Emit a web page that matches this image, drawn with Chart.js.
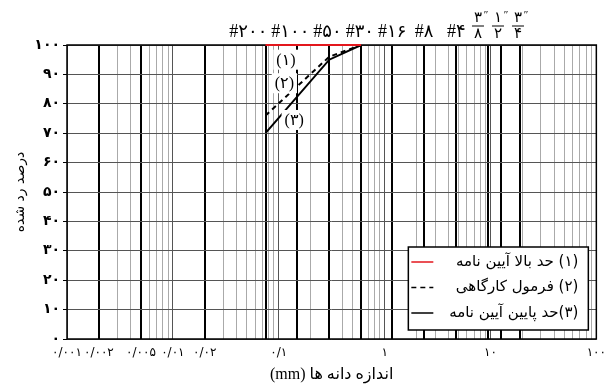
<!DOCTYPE html>
<html>
<head>
<meta charset="utf-8">
<script src="https://cdn.jsdelivr.net/npm/chart.js@4.4.0/dist/chart.umd.min.js"></script>
<style>
    html, body { margin: 0; padding: 0; background: #fff; }
    #contenedor { width: 613px; height: 385px; }
</style>
</head>
<body>
<div id="contenedor"><canvas id="grafica"></canvas></div>
<script>
// tamaños de tamiz (mm) donde se leen las curvas
const tamanos = [0.075, 0.3, 0.6];
const limiteSuperior = [100, 100, 100];
const formulaObra = [76, 96, 100];
const limiteInferior = [70, 95, 100];

const nombresSeries = ['(۱) حد بالا آیین نامه', '(۲) فرمول کارگاهی', '(۳)حد پایین آیین نامه'];
const numerosSeries = ['(۱)', '(۲)', '(۳)'];

// tamices marcados arriba del grafico
const tamicesAbertura = [0.075, 0.15, 0.3, 0.6, 1.18, 2.36, 4.75, 9.5, 12.5, 19];
const tamicesNombre = ['#۲۰۰', '#۱۰۰', '#۵۰', '#۳۰', '#۱۶', '#۸', '#۴', '۳/۸', '۱/۲', '۳/۴'];
const lineasHidrometro = [0.002, 0.005, 0.02];

const etiquetasX = [0.001, 0.002, 0.005, 0.01, 0.02, 0.1, 1, 10, 100];
const etiquetasY = [0, 10, 20, 30, 40, 50, 60, 70, 80, 90, 100];

const fuente = "'Liberation Serif', 'DejaVu Sans', serif";
const fuenteFa = "'DejaVu Sans', 'Liberation Serif', sans-serif";

function aPersa(valor) {
    return String(valor).replace('.', '/').replace(/\d/g, d => '۰۱۲۳۴۵۶۷۸۹'[d]);
}

function estaEn(lista, v) {
    return lista.some(x => Math.abs(x - v) / x < 0.001);
}

function puntos(valores) {
    return tamanos.map((t, i) => ({x: t, y: valores[i]}));
}

function lineasGrillaX() {
    let ticks = [];
    for (let k = -3; k <= 1; k++) {
        for (let n = 1; n <= 9; n++) {
            ticks.push(parseFloat((n * Math.pow(10, k)).toPrecision(3)));
        }
    }
    ticks.push(100);
    tamicesAbertura.forEach(t => { if (!estaEn(ticks, t)) ticks.push(t); });
    return ticks.sort((a, b) => a - b).map(v => ({value: v}));
}

function esGruesa(v) {
    return estaEn(tamicesAbertura, v) || estaEn(lineasHidrometro, v);
}

function esDecada(v) {
    return Math.abs(Math.log10(v) - Math.round(Math.log10(v))) < 1e-6;
}

// posicion (en unidades de datos) de los numeros (۱) (۲) (۳)
const posicionNumeros = [[0.117, 95], [0.113, 87], [0.14, 74.5]];

const complementos = {
    id: 'complementos',
    beforeDatasetsDraw(chart) {
        const ctx = chart.ctx;
        const a = chart.chartArea;
        ctx.save();
        ctx.strokeStyle = '#000';
        ctx.lineWidth = 1.5;
        ctx.strokeRect(a.left, a.top, a.right - a.left, a.bottom - a.top);
        ctx.restore();
    },
    afterDatasetsDraw(chart) {
        const ctx = chart.ctx;
        const sx = chart.scales.x;
        const sy = chart.scales.y;
        ctx.save();
        ctx.font = '16px ' + fuente;
        ctx.textAlign = 'center';
        ctx.textBaseline = 'middle';
        numerosSeries.forEach((txt, i) => {
            const px = sx.getPixelForValue(posicionNumeros[i][0]);
            const py = sy.getPixelForValue(posicionNumeros[i][1]);
            const w = ctx.measureText(txt).width + 6;
            ctx.fillStyle = '#fff';
            ctx.fillRect(px - w / 2, py - 10, w, 20);
            ctx.fillStyle = '#000';
            ctx.fillText(txt, px, py + 1);
        });
        ctx.restore();
    },
    afterDraw(chart) {
        const ctx = chart.ctx;
        const a = chart.chartArea;
        const sx = chart.scales.x;

        // leyenda
        const caja = {left: a.right - 188, top: a.bottom - 92, width: 180, height: 83};
        ctx.save();
        ctx.fillStyle = '#fff';
        ctx.fillRect(caja.left, caja.top, caja.width, caja.height);
        ctx.strokeStyle = '#000';
        ctx.lineWidth = 1.5;
        ctx.strokeRect(caja.left, caja.top, caja.width, caja.height);
        chart.data.datasets.forEach((ds, i) => {
            const y = caja.top + 15 + i * 25.5;
            ctx.strokeStyle = ds.borderColor;
            ctx.lineWidth = 1.5;
            ctx.setLineDash(ds.borderDash || []);
            ctx.beginPath();
            ctx.moveTo(caja.left + 3, y);
            ctx.lineTo(caja.left + 25, y);
            ctx.stroke();
            ctx.setLineDash([]);
            ctx.fillStyle = '#000';
            ctx.font = '15px ' + fuenteFa;
            ctx.direction = 'rtl';
            ctx.textAlign = 'right';
            ctx.textBaseline = 'middle';
            ctx.fillText(ds.label, caja.left + caja.width - 10, y);
        });
        ctx.restore();

        // nombres de tamices arriba
        ctx.save();
        ctx.direction = 'ltr';
        ctx.font = '18px ' + fuente;
        const items = tamicesAbertura.map((v, i) => {
            const nombre = tamicesNombre[i];
            const fraccion = nombre.includes('/');
            return {
                centro: sx.getPixelForValue(v),
                nombre: nombre,
                fraccion: fraccion,
                ancho: fraccion ? 16 : ctx.measureText(nombre).width
            };
        });
        let limite = Infinity;
        for (let i = items.length - 1; i >= 0; i--) {
            const it = items[i];
            let der = it.centro + it.ancho / 2;
            if (der > limite - 4) der = limite - 4;
            it.izq = der - it.ancho;
            limite = it.izq;
        }
        ctx.fillStyle = '#000';
        ctx.strokeStyle = '#000';
        items.forEach(it => {
            if (it.fraccion) {
                const [num, den] = it.nombre.split('/');
                const cx = it.izq + it.ancho / 2 - 2;
                ctx.font = '15px ' + fuente;
                ctx.textAlign = 'center';
                ctx.textBaseline = 'middle';
                ctx.fillText(num, cx, a.top - 27);
                ctx.fillText(den, cx, a.top - 11);
                ctx.font = '11px ' + fuente;
                ctx.fillText('″', cx + 8, a.top - 30);
                ctx.lineWidth = 1;
                ctx.beginPath();
                ctx.moveTo(cx - 6, a.top - 19);
                ctx.lineTo(cx + 6, a.top - 19);
                ctx.stroke();
            } else {
                ctx.font = '18px ' + fuente;
                ctx.textAlign = 'left';
                ctx.textBaseline = 'alphabetic';
                ctx.fillText(it.nombre, it.izq, a.top - 8);
            }
        });
        ctx.restore();
    }
};

const ctx = document.getElementById('grafica').getContext('2d');
new Chart(ctx, {
    type: 'line',
    data: {
        datasets: [{
                label: nombresSeries[0],
                data: puntos(limiteSuperior),
                borderColor: '#e3161c',
                borderWidth: 2,
                pointRadius: 0,
                clip: false
            }, {
                label: nombresSeries[1],
                data: puntos(formulaObra),
                borderColor: '#000',
                borderDash: [5, 4],
                borderWidth: 2,
                pointRadius: 0,
                clip: false
            }, {
                label: nombresSeries[2],
                data: puntos(limiteInferior),
                borderColor: '#000',
                borderWidth: 2,
                pointRadius: 0,
                clip: false
            }]
    },
    options: {
        responsive: true,
        maintainAspectRatio: false,
        animation: false,
        devicePixelRatio: 1,
        layout: {padding: {top: 45, right: 15, left: 0, bottom: 0}},
        plugins: {
            legend: {display: false},
            tooltip: {enabled: false}
        },
        scales: {
            x: {
                type: 'logarithmic',
                min: 0.001,
                max: 100,
                afterBuildTicks: function (scale) {
                    scale.ticks = lineasGrillaX();
                },
                afterFit: function (scale) {
                    scale.height = 46;
                },
                border: {display: false},
                grid: {
                    drawTicks: false,
                    color: c => esGruesa(c.tick.value) ? '#000' : (esDecada(c.tick.value) ? '#555' : '#aaa'),
                    lineWidth: c => esGruesa(c.tick.value) ? 2 : 1
                },
                ticks: {
                    autoSkip: false,
                    maxRotation: 0,
                    minRotation: 0,
                    padding: 7,
                    color: '#000',
                    font: {family: fuenteFa, size: 12},
                    callback: function (valor) {
                        return estaEn(etiquetasX, valor) ? aPersa(valor) : '';
                    }
                },
                title: {
                    display: true,
                    text: '\u202Bاندازه دانه ها (mm)\u202C',
                    color: '#000',
                    padding: {top: 2, bottom: 1},
                    font: {family: fuente, size: 16}
                }
            },
            y: {
                min: 0,
                max: 100,
                afterBuildTicks: function (scale) {
                    scale.ticks = etiquetasY.map(v => ({value: v}));
                },
                afterFit: function (scale) {
                    scale.width = 67;
                },
                border: {display: false},
                grid: {
                    color: '#555',
                    lineWidth: 1,
                    tickLength: 4,
                    tickColor: '#000'
                },
                ticks: {
                    padding: 3,
                    color: '#000',
                    font: {family: fuenteFa, size: 14, weight: 'bold'},
                    callback: valor => aPersa(valor)
                },
                title: {
                    display: true,
                    text: 'درصد رد شده',
                    color: '#000',
                    padding: {top: 12, bottom: 4},
                    font: {family: fuenteFa, size: 14}
                }
            }
        }
    },
    plugins: [complementos]
});
</script>
</body>
</html>
